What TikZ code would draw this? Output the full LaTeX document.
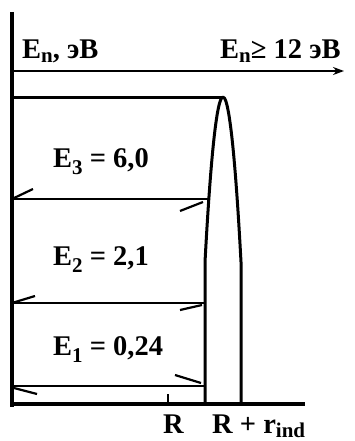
\documentclass[tikz,border=0pt]{standalone}
\usepackage{fontspec}
\setmainfont{Liberation Serif}
\usetikzlibrary{arrows.meta}
\newcommand\lsub[2][-0.25em]{\raisebox{#1}{\fontsize{21}{22}\selectfont #2}}
\begin{document}
\begin{tikzpicture}[x=1pt,y=-1pt,
  lbl/.style={inner sep=0pt,anchor=base west,font=\fontsize{28.5}{30}\selectfont\bfseries},
  axis/.style={line width=3.2pt},
  lvl/.style={line width=2.8pt},
  barb/.style={line width=2.2pt},
  wall/.style={line width=3pt,line join=round}]
\useasboundingbox (0,0) rectangle (354,441);
% axes
\coordinate (o) at (12,404);
\coordinate (ytop) at (12,12);
\coordinate (xend) at (305,404);
\draw[axis] (ytop) -- (12,407);
\draw[axis] (10.4,404) -- (xend);
% top arrow
\coordinate (al) at (12,71);
\coordinate (ar) at (344,71);
\draw[line width=2.8pt,-{Stealth[length=11pt,width=8pt]}] (al) -- (ar);
% plateau and barrier
\coordinate (pl) at (12,98);
\coordinate (peak) at (223,98);
\draw[wall] (pl) -- (peak);
\draw[wall] (205,404) -- (205,262) parabola bend (223,97) (241,262) -- (241,404);
% tick R
\coordinate (tR) at (168,404);
\draw[line width=1.6pt] (tR) -- (168,394);
% levels
\coordinate (l3a) at (12,199); \coordinate (l3b) at (209,199);
\draw[lvl] (l3a) -- (l3b);
\draw[barb] (l3a) -- (33,189);
\draw[barb] (203,202) -- (180,211);
\coordinate (l2a) at (12,303); \coordinate (l2b) at (204,303);
\draw[lvl] (l2a) -- (l2b);
\draw[barb] (l2a) -- (35,296);
\draw[barb] (202,305) -- (180,310);
\coordinate (l1a) at (12,386); \coordinate (l1b) at (205,386);
\draw[lvl] (l1a) -- (l1b);
\draw[barb] (14,388) -- (37,394);
\draw[barb] (201,383) -- (175,375);
% labels
\node[lbl] (en) at (22,59) {E\lsub[-0.12em]{n}, эВ};
\node[lbl] (enr) at (220,59) {E\lsub[-0.12em]{n}≥ 12 эВ};
\node[lbl] (e3) at (53,167) {E\lsub{3} = 6,0};
\node[lbl] (e2) at (53,265) {E\lsub{2} = 2,1};
\node[lbl] (e1) at (53,355) {E\lsub{1} = 0,24};
\node[lbl] (r) at (163,433) {R};
\node[lbl] (rr) at (212,433) {R + r\lsub[-0.16em]{ind}};
\end{tikzpicture}
\end{document}
